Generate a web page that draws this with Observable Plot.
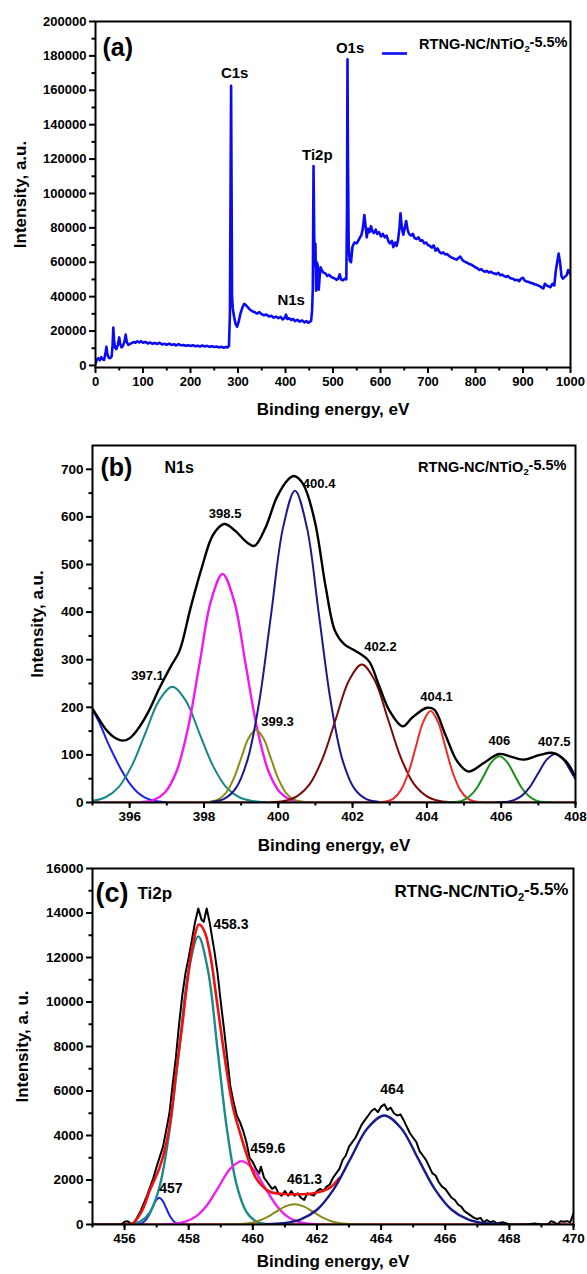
<!DOCTYPE html>
<html><head><meta charset="utf-8">
<script src="https://cdn.jsdelivr.net/npm/d3@7"></script>
<script src="https://cdn.jsdelivr.net/npm/@observablehq/plot@0.6"></script>
<style>
body{margin:0;background:#fff;}
#wrap{width:587px;height:1274px;position:relative;overflow:hidden;background:#fff;}
#wrap svg{display:block;}
</style></head><body><div id="wrap"></div>
<script>
// ---------------- DATA ----------------
const sampleName = "RTNG-NC/NTiO2-5.5%";
const xTitle = "Binding energy, eV";

// (a) survey spectrum [binding energy, intensity]
const survey = [[0,1000],[3,3500],[6,4200],[9,3000],[12,4800],[15,3600],[18,3200],[21,7000],[23,10900],[25,6500],[28,4500],[31,4200],[34,5200],[36,12000],[37.5,22000],[39,15000],[41,10500],[44,9500],[47,12000],[50,16300],[52,12500],[55,10500],[58,11500],[61,14000],[63.5,17900],[66,13500],[69,12000],[72,12400],[76,13000],[80,13600],[84,13200],[88,14000],[92,13400],[96,14100],[100,13200],[105,13700],[110,12800],[115,13300],[120,12600],[125,13100],[130,12500],[135,13200],[140,12200],[145,12600],[150,12000],[155,12700],[160,11900],[165,12300],[170,11600],[175,12400],[180,11700],[185,11900],[190,11400],[195,11800],[200,11300],[205,11700],[210,11200],[215,11500],[220,11000],[225,11600],[230,11000],[235,11400],[240,10800],[245,11200],[250,10700],[255,11000],[260,10500],[265,10900],[270,10300],[274,10700],[278,10400],[281,11500],[283,30000],[284.5,110000],[285.5,162600],[286.5,100000],[287.5,40000],[289,33000],[292,28000],[295,24000],[298,22500],[301,25000],[305,30000],[309,33500],[313,35800],[317,35000],[320,34000],[325,32500],[330,31500],[335,31000],[340,30200],[345,31000],[350,29800],[355,29200],[360,29600],[365,28500],[370,28900],[375,27800],[380,28400],[385,27500],[390,28200],[394,26800],[398,27500],[401,29500],[404,27000],[408,27400],[412,26400],[416,27000],[420,25800],[425,26500],[430,25500],[435,26200],[440,25000],[444,25800],[448,24800],[451,25300],[454,26000],[456,32000],[457.5,45000],[459,116000],[460.5,75000],[462,58000],[463,70700],[464.5,43500],[466,60000],[468,58000],[470,44000],[472,52000],[474,57000],[477,55000],[480,54000],[484,53500],[488,52000],[492,52700],[496,51500],[500,51000],[504,50500],[508,49800],[511,50500],[514,53000],[517,50000],[521,49500],[525,50500],[528,50000],[529.5,90000],[530.5,178000],[531.5,120000],[533,70000],[535,61000],[538,60000],[541,69000],[545,71500],[550,71000],[555,73500],[560,76000],[563,80000],[566,87500],[569,80000],[571,74500],[574,79500],[577,77500],[580,81000],[583,78000],[586,77000],[590,79000],[593,76500],[597,77500],[601,75000],[605,76500],[609,74500],[613,75500],[617,72000],[620,71000],[624,72500],[627,68800],[631,71500],[634,69500],[637,73000],[640,80000],[642,88500],[645,80000],[648,76000],[651,80000],[654,84000],[657,79000],[660,76500],[664,75500],[668,76500],[672,74000],[676,73500],[680,74500],[684,72500],[688,72800],[692,71000],[696,71500],[700,70000],[704,69500],[708,68500],[712,69800],[716,66800],[720,68000],[724,66000],[728,65200],[732,65800],[736,64500],[740,64800],[744,63800],[748,63000],[752,62500],[756,62000],[760,61500],[764,62500],[768,63300],[772,61500],[776,60500],[780,60000],[784,59500],[788,58800],[792,58500],[796,57800],[800,57000],[804,56500],[808,55500],[812,56000],[816,55000],[820,54500],[824,55000],[828,54000],[832,54500],[836,53800],[840,53500],[844,53000],[848,53800],[852,52500],[856,52800],[860,52000],[864,51500],[868,52000],[872,51000],[876,50500],[880,50200],[884,49500],[888,49800],[892,49000],[896,50500],[900,51000],[904,49200],[908,48800],[912,48500],[916,48000],[920,47800],[924,47200],[928,47000],[932,46500],[936,46000],[940,45200],[943,44800],[946,47500],[950,46500],[954,46000],[958,45500],[962,47500],[966,46500],[969,55000],[972,60000],[975,65000],[978,60000],[981,52000],[984,50500],[988,51500],[992,52500],[995,55500],[998,54000],[1000,53000]];
const surveyPeakNames = ["C1s","Ti2p","O1s","N1s"];
const surveyPeakPos = [[293,169800],[467,122000],[536,184500],[412,38100]];

// (b) N1s fit components [eV, intensity]
const n1sBlue = [[395.0,195],[395.2,165],[395.4,128],[395.6,95],[395.8,65],[396.0,40],[396.2,22],[396.4,11],[396.6,5],[396.8,2],[397.0,0]];
const n1sTeal = [[394.99,3],[395.35,11],[395.71,33],[396.07,79],[396.43,147],[396.79,214],[397.15,243],[397.51,214],[397.87,147],[398.23,79],[398.59,33],[398.95,11],[399.31,3],[399.67,0.5]];
const n1sMagenta = [[396.33,1],[396.64,5],[396.95,21],[397.26,65],[397.57,156],[397.88,291],[398.19,424],[398.5,480],[398.81,424],[399.12,291],[399.43,156],[399.74,65],[400.05,21],[400.36,5],[400.67,1]];
const n1sOlive = [[398.0,0.3],[398.2,2],[398.4,7],[398.6,21],[398.8,50],[399.0,93],[399.2,135],[399.4,153],[399.6,135],[399.8,93],[400.0,50],[400.2,21],[400.4,7],[400.6,2],[400.8,0.3]];
const n1sNavy = [[398.21,1.4],[398.53,7],[398.85,29],[399.17,89],[399.49,213],[399.81,397],[400.13,578],[400.45,655],[400.77,578],[401.09,397],[401.41,213],[401.73,89],[402.05,29],[402.37,7],[402.69,1.4]];
const n1sDarkRed = [[399.8,0.6],[400.15,3],[400.5,13],[400.85,39],[401.2,94],[401.55,176],[401.9,256],[402.25,290],[402.6,256],[402.95,176],[403.3,94],[403.65,39],[404.0,13],[404.35,3],[404.7,0.6]];
const n1sRed = [[402.7,0.4],[402.9,2],[403.1,8],[403.3,26],[403.5,62],[403.7,116],[403.9,169],[404.1,192],[404.3,169],[404.5,116],[404.7,62],[404.9,26],[405.1,8],[405.3,2],[405.5,0.4]];
const n1sGreen = [[404.55,0.2],[404.75,1],[404.95,4],[405.15,13],[405.35,31],[405.55,59],[405.75,86],[405.95,97],[406.15,86],[406.35,59],[406.55,31],[406.75,13],[406.95,4],[407.15,1],[407.35,0.2]];
const n1sNavy2 = [[405.875,0.2],[406.1,1.1],[406.325,4.5],[406.55,14],[406.775,33],[407.0,62],[407.225,90],[407.45,102],[407.675,90],[407.9,62],[408.125,33]];
const n1sEnvelope = [[395.0,197],[395.2,172],[395.4,150],[395.6,136],[395.82,130],[396.0,135],[396.2,152],[396.5,190],[396.8,240],[397.1,285],[397.34,318],[397.64,409],[397.94,493],[398.25,563],[398.55,585],[398.85,570],[399.16,546],[399.36,539],[399.66,578],[399.96,641],[400.27,679],[400.42,686],[400.67,669],[400.98,592],[401.28,451],[401.53,360],[401.78,332],[402.09,318],[402.44,297],[402.7,248],[403.0,192],[403.35,160],[403.6,178],[404.0,199],[404.2,195],[404.5,142],[404.82,86],[405.12,65],[405.53,83],[405.94,102],[406.23,97],[406.59,90],[407.04,100],[407.4,104],[407.75,86],[408.0,53]];
const n1sBaseline = [[395,0],[408,0]];
const n1sPeakNames = ["398.5","400.4","397.1","399.3","402.2","404.1","406","407.5"];
const n1sPeakPos = [[398.57,607],[401.1,670],[396.48,267],[399.98,169],[402.75,328],[404.26,223],[405.95,130],[407.43,127]];

// (c) Ti2p
const ti2pData = [[455.0,0],[455.5,0],[455.9,10],[456.0,120],[456.1,150],[456.2,30],[456.3,80],[456.5,600],[456.7,1300],[456.9,2100],[457.0,2600],[457.2,3500],[457.4,5000],[457.5,6300],[457.6,7500],[457.7,9000],[457.8,10300],[457.9,11300],[458.0,12000],[458.1,12800],[458.2,13600],[458.3,14200],[458.4,13700],[458.47,13600],[458.56,14200],[458.65,13600],[458.8,12300],[458.9,11300],[459.0,10000],[459.1,8800],[459.2,7500],[459.3,6200],[459.4,5500],[459.5,4900],[459.6,4600],[459.7,4200],[459.8,3700],[459.9,3000],[460.0,2800],[460.1,2500],[460.2,2300],[460.25,2600],[460.35,2100],[460.5,1800],[460.6,1600],[460.7,1700],[460.8,1400],[460.9,1300],[461.0,1500],[461.1,1300],[461.2,1500],[461.3,1300],[461.4,1400],[461.5,1200],[461.6,1100],[461.7,1400],[461.8,1350],[461.9,1300],[462.0,1500],[462.1,1600],[462.2,1500],[462.3,1700],[462.4,1800],[462.5,2100],[462.6,2300],[462.7,2500],[462.8,2900],[462.9,3100],[463.0,3500],[463.1,3700],[463.2,3900],[463.3,4200],[463.4,4500],[463.5,4700],[463.6,4900],[463.7,5100],[463.8,5200],[463.9,5050],[464.0,5300],[464.1,5400],[464.2,5150],[464.3,5250],[464.4,5000],[464.5,4900],[464.6,4950],[464.7,4700],[464.8,4400],[464.9,4100],[465.0,3900],[465.1,3700],[465.2,3300],[465.3,3100],[465.4,2900],[465.5,2600],[465.6,2300],[465.7,2200],[465.8,1900],[465.9,1700],[466.0,1600],[466.1,1400],[466.2,1200],[466.3,1100],[466.4,900],[466.5,800],[466.6,600],[466.7,500],[466.8,400],[466.9,300],[467.0,250],[467.1,300],[467.2,100],[467.3,200],[467.4,100],[467.5,150],[467.6,50],[467.8,100],[468.0,0],[468.5,0],[468.8,50],[469.0,0],[469.2,0],[469.3,150],[469.4,100],[469.5,0],[469.6,150],[469.7,120],[469.8,150],[469.9,100],[469.95,300],[470.0,500]];
const ti2pFit = [[456.0,0],[456.25,45],[456.55,640],[456.79,1540],[457.08,2510],[457.25,3330],[457.43,4670],[457.6,6760],[457.79,8850],[457.96,10940],[458.14,12660],[458.32,13480],[458.49,13180],[458.67,12130],[458.85,10340],[459.02,8550],[459.2,6760],[459.38,5270],[459.61,4070],[459.85,2960],[460.08,2130],[460.32,1690],[460.55,1460],[460.79,1390],[461.14,1360],[461.49,1360],[461.85,1390],[462.2,1510],[462.44,1690],[462.7,2100]];
const ti2pBlue = [[456.31,3],[456.42,13],[456.53,53],[456.64,162],[456.75,390],[456.86,728],[456.97,1059],[457.08,1200],[457.19,1059],[457.3,728],[457.41,390],[457.52,162],[457.63,53],[457.74,13],[457.85,3]];
const ti2pTeal = [[456.2,28],[456.5,144],[456.8,569],[457.1,1752],[457.4,4205],[457.7,7854],[458.0,11428],[458.3,12950],[458.6,11428],[458.9,7854],[459.2,4205],[459.5,1752],[459.8,569],[460.1,144],[460.4,28]];
const ti2pMagenta = [[457.2,6],[457.55,32],[457.9,125],[458.25,386],[458.6,925],[458.95,1729],[459.3,2515],[459.65,2850],[460.0,2515],[460.35,1729],[460.7,925],[461.05,386],[461.4,125],[461.75,32],[462.1,6]];
const ti2pOlive = [[459.2,2],[459.5,10],[459.8,40],[460.1,123],[460.4,295],[460.7,552],[461.0,803],[461.3,910],[461.6,803],[461.9,552],[462.2,295],[462.5,123],[462.8,40],[463.1,10],[463.4,2]];
const ti2pNavy = [[460.425,11],[460.95,54],[461.475,215],[462.0,663],[462.525,1591],[463.05,2972],[463.575,4324],[464.1,4900],[464.625,4324],[465.15,2972],[465.675,1591],[466.2,663],[466.725,215],[467.25,54],[467.775,11]];
const ti2pBaseline = [[455,0],[470,0]];
const ti2pPeakNames = ["458.3","459.6","457"];
const ti2pPeakPos = [[458.77,13500],[459.92,3400],[457.08,1610]];
const ti2pPeakNamesC = ["461.3","464"];
const ti2pPeakPosC = [[461.61,2015],[464.34,6045]];

// ---------------- RENDER ----------------
const FONT = "'Liberation Sans', Arial, Helvetica, sans-serif";
const X = d => d[0], Y = d => d[1];

function axes({xMajor, xMinor, yMajor, yMinor, tickFs}) {
  return [
    Plot.axisX({ticks: xMajor, tickSize: 6, tickPadding: 3, tickFormat: "d", label: null, strokeWidth: 2, fontSize: tickFs, fontWeight: "bold"}),
    Plot.axisX({ticks: xMinor, tickSize: 3.5, tickFormat: () => "", label: null, strokeWidth: 2}),
    Plot.axisY({ticks: yMajor, tickSize: 6, tickPadding: 3, tickFormat: "d", label: null, strokeWidth: 2, fontSize: tickFs, fontWeight: "bold"}),
    Plot.axisY({ticks: yMinor, tickSize: 3.5, tickFormat: () => "", label: null, strokeWidth: 2}),
  ];
}
function titles(ydx, xdy, ytext) {
  return [
    Plot.text([xTitle], {frameAnchor: "bottom", dy: xdy, lineAnchor: "middle", textAnchor: "middle", fontSize: 17, fontWeight: "bold"}),
    Plot.text([ytext], {frameAnchor: "left", dx: ydx, rotate: -90, lineAnchor: "middle", textAnchor: "middle", fontSize: 17, fontWeight: "bold"})
  ];
}
const frame = Plot.frame({stroke: "#000", strokeWidth: 2});
const style = {fontFamily: FONT, background: "white", color: "black", overflow: "visible"};
const line = (data, stroke, w = 2, curve = "catmull-rom") => Plot.line(data, {x: X, y: Y, stroke, strokeWidth: w, curve, clip: true});

function subscriptify(svg) {
  d3.select(svg).selectAll("text").each(function() {
    if (this.textContent === sampleName) {
      const t = d3.select(this);
      t.text("");
      t.append("tspan").text("RTNG-NC/NTiO");
      t.append("tspan").attr("dy", "0.35em").attr("font-size", "0.65em").text("2");
      t.append("tspan").attr("dy", "-0.35em").text("-5.5%");
    }
  });
  return svg;
}

const wrap = document.getElementById("wrap");

// Panel (a)
const plotA = Plot.plot({
  width: 587, height: 425, marginTop: 21, marginBottom: 58, marginLeft: 95, marginRight: 17,
  x: {domain: [0, 1000]}, y: {domain: [-1200, 200000]}, style,
  marks: [
    ...axes({xMajor: d3.range(0, 1001, 100), xMinor: d3.range(50, 1000, 100), yMajor: d3.range(0, 200001, 20000), yMinor: d3.range(10000, 200000, 20000), tickFs: 13}),
    line(survey, "#0b0bf2", 2.6, "linear"),
    Plot.text(surveyPeakNames, {x: (d, i) => surveyPeakPos[i][0], y: (d, i) => surveyPeakPos[i][1], text: d => d, fontSize: 15, fontWeight: "bold"}),
    Plot.text(["(a)"], {frameAnchor: "top-left", dx: 7, dy: 26, lineAnchor: "middle", textAnchor: "start", fontSize: 25, fontWeight: "bold"}),
    Plot.ruleY([181400], {x1: 604, x2: 657, stroke: "#0b0bf2", strokeWidth: 2.6}),
    Plot.text([sampleName], {frameAnchor: "top-right", dx: -3, dy: 23, lineAnchor: "middle", textAnchor: "end", fontSize: 14.5, fontWeight: "bold"}),
    ...titles(-75, 42, "Intensity, a.u."),
    frame
  ]
});
wrap.appendChild(subscriptify(plotA));

// Panel (b)
const plotB = Plot.plot({
  width: 587, height: 430, marginTop: 20, marginBottom: 53, marginLeft: 92, marginRight: 12,
  x: {domain: [395, 408]}, y: {domain: [0, 750]}, style,
  marks: [
    ...axes({xMajor: d3.range(396, 409, 2), xMinor: d3.range(395, 409, 1), yMajor: d3.range(0, 701, 100), yMinor: d3.range(50, 750, 100), tickFs: 13.5}),
    line(n1sBaseline, "#e8322e", 2.5, "linear"),
    line(n1sBlue, "#1f1fe6"),
    line(n1sTeal, "#158787"),
    line(n1sMagenta, "#f01af0", 2.4),
    line(n1sOlive, "#8c8c14"),
    line(n1sNavy, "#1a1a8c"),
    line(n1sDarkRed, "#7a0a0a"),
    line(n1sRed, "#ee2b2b"),
    line(n1sGreen, "#1a8f1a"),
    line(n1sNavy2, "#1a1a8c"),
    line(n1sEnvelope, "#000", 2.4),
    Plot.text(n1sPeakNames, {x: (d, i) => n1sPeakPos[i][0], y: (d, i) => n1sPeakPos[i][1], text: d => d, fontSize: 13, fontWeight: "bold"}),
    Plot.text(["(b)"], {frameAnchor: "top-left", dx: 8, dy: 22, lineAnchor: "middle", textAnchor: "start", fontSize: 25, fontWeight: "bold"}),
    Plot.text(["N1s"], {frameAnchor: "top-left", dx: 72, dy: 22, lineAnchor: "middle", textAnchor: "start", fontSize: 16, fontWeight: "bold"}),
    Plot.text([sampleName], {frameAnchor: "top-right", dx: -9, dy: 22, lineAnchor: "middle", textAnchor: "end", fontSize: 14.5, fontWeight: "bold"}),
    ...titles(-55, 43, "Intensity, a.u."),
    frame
  ]
});
wrap.appendChild(subscriptify(plotB));

// Panel (c)
const plotC = Plot.plot({
  width: 587, height: 419, marginTop: 13, marginBottom: 50, marginLeft: 92, marginRight: 14,
  x: {domain: [455, 470]}, y: {domain: [0, 16000]}, style,
  marks: [
    ...axes({xMajor: d3.range(456, 471, 2), xMinor: d3.range(455, 471, 1), yMajor: d3.range(0, 16001, 2000), yMinor: d3.range(1000, 16000, 2000), tickFs: 13.5}),
    line(ti2pBaseline, "#e8322e", 2.5, "linear"),
    line(ti2pData, "#000", 2, "linear"),
    line(ti2pBlue, "#2222dd"),
    line(ti2pTeal, "#1a8a8a", 2.4),
    line(ti2pMagenta, "#ee22ee", 2.4),
    line(ti2pOlive, "#8a8a1a"),
    line(ti2pFit, "#ee1111", 2.6),
    line(ti2pNavy, "#1a1a8a", 2.4),
    Plot.text(ti2pPeakNames, {x: (d, i) => ti2pPeakPos[i][0], y: (d, i) => ti2pPeakPos[i][1], text: d => d, textAnchor: "start", fontSize: 14, fontWeight: "bold"}),
    Plot.text(ti2pPeakNamesC, {x: (d, i) => ti2pPeakPosC[i][0], y: (d, i) => ti2pPeakPosC[i][1], text: d => d, fontSize: 14, fontWeight: "bold"}),
    Plot.text(["(c)"], {frameAnchor: "top-left", dx: 3, dy: 25, lineAnchor: "middle", textAnchor: "start", fontSize: 27, fontWeight: "bold"}),
    Plot.text(["Ti2p"], {frameAnchor: "top-left", dx: 45, dy: 25, lineAnchor: "middle", textAnchor: "start", fontSize: 17, fontWeight: "bold"}),
    Plot.text([sampleName], {frameAnchor: "top-right", dx: -5, dy: 23, lineAnchor: "middle", textAnchor: "end", fontSize: 17, fontWeight: "bold"}),
    ...titles(-70, 37, "Intensity, a. u."),
    frame
  ]
});
wrap.appendChild(subscriptify(plotC));
</script>
</body></html>
